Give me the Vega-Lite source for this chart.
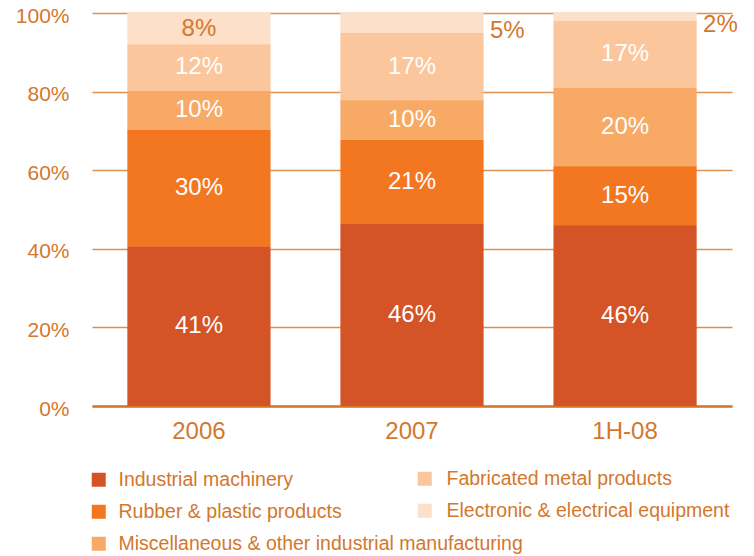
{
  "$schema": "https://vega.github.io/schema/vega-lite/v6.json",
  "width": 640,
  "height": 393,
  "autosize": {"type": "none"},
  "padding": {"left": 92, "top": 13, "right": 22, "bottom": 150},
  "background": "white",
  "config": {
    "view": {"stroke": null},
    "font": "Liberation Sans",
    "axis": {"labelFont": "Liberation Sans", "labelColor": "#D4772D", "title": null},
    "legend": {"labelFont": "Liberation Sans"}
  },
  "data": {
    "values": [
      {"period": "2006", "category": "Industrial machinery", "rank": 1, "value": 0.41},
      {"period": "2006", "category": "Rubber & plastic products", "rank": 2, "value": 0.30},
      {"period": "2006", "category": "Miscellaneous & other industrial manufacturing", "rank": 3, "value": 0.10},
      {"period": "2006", "category": "Fabricated metal products", "rank": 4, "value": 0.12},
      {"period": "2006", "category": "Electronic & electrical equipment", "rank": 5, "value": 0.08},
      {"period": "2007", "category": "Industrial machinery", "rank": 1, "value": 0.46},
      {"period": "2007", "category": "Rubber & plastic products", "rank": 2, "value": 0.21},
      {"period": "2007", "category": "Miscellaneous & other industrial manufacturing", "rank": 3, "value": 0.10},
      {"period": "2007", "category": "Fabricated metal products", "rank": 4, "value": 0.17},
      {"period": "2007", "category": "Electronic & electrical equipment", "rank": 5, "value": 0.05},
      {"period": "1H-08", "category": "Industrial machinery", "rank": 1, "value": 0.46},
      {"period": "1H-08", "category": "Rubber & plastic products", "rank": 2, "value": 0.15},
      {"period": "1H-08", "category": "Miscellaneous & other industrial manufacturing", "rank": 3, "value": 0.20},
      {"period": "1H-08", "category": "Fabricated metal products", "rank": 4, "value": 0.17},
      {"period": "1H-08", "category": "Electronic & electrical equipment", "rank": 5, "value": 0.02}
    ]
  },
  "encoding": {
    "x": {
      "field": "period",
      "type": "nominal",
      "sort": ["2006", "2007", "1H-08"],
      "scale": {"paddingInner": 0.33, "paddingOuter": 0.167},
      "axis": {
        "labelAngle": 0,
        "labelFontSize": 24,
        "labelPadding": 13,
        "ticks": false,
        "domain": true,
        "domainColor": "#D4772D",
        "domainWidth": 2.5,
        "title": null
      }
    },
    "y": {
      "field": "value",
      "type": "quantitative",
      "stack": "normalize",
      "scale": {"domain": [0, 1], "nice": false},
      "axis": {
        "values": [0, 0.2, 0.4, 0.6, 0.8, 1],
        "format": ".0%",
        "labelFontSize": 21,
        "labelPadding": 23,
        "labelOffset": 3,
        "ticks": false,
        "domain": false,
        "grid": true,
        "gridColor": "#DC8F4E",
        "gridWidth": 1.5,
        "title": null
      }
    },
    "order": {"field": "rank", "type": "quantitative"}
  },
  "layer": [
    {
      "mark": {"type": "bar"},
      "encoding": {
        "color": {
          "field": "category",
          "type": "nominal",
          "scale": {
            "domain": ["Industrial machinery", "Rubber & plastic products", "Miscellaneous & other industrial manufacturing", "Fabricated metal products", "Electronic & electrical equipment"],
            "range": ["#D45427", "#F37621", "#F8A965", "#FBC69B", "#FDE0C9"]
          },
          "legend": {
            "values": ["Industrial machinery", "Rubber & plastic products", "Miscellaneous & other industrial manufacturing"],
            "orient": "none",
            "legendX": -3,
            "legendY": 457,
            "title": null,
            "padding": 0,
            "symbolType": "square",
            "symbolSize": 196,
            "symbolStrokeWidth": 0,
            "labelFontSize": 19.5,
            "labelColor": "#D4772D",
            "labelOffset": 10,
            "labelLimit": 600,
            "rowPadding": 11
          }
        }
      }
    },
    {
      "mark": {"type": "bar"},
      "encoding": {
        "fill": {
          "field": "category",
          "type": "nominal",
          "scale": {
            "domain": ["Fabricated metal products", "Electronic & electrical equipment", "Industrial machinery", "Rubber & plastic products", "Miscellaneous & other industrial manufacturing"],
            "range": ["#FBC69B", "#FDE0C9", "#D45427", "#F37621", "#F8A965"]
          },
          "legend": {
            "values": ["Fabricated metal products", "Electronic & electrical equipment"],
            "orient": "none",
            "legendX": 323,
            "legendY": 456,
            "title": null,
            "padding": 0,
            "symbolType": "square",
            "symbolSize": 196,
            "symbolStrokeWidth": 0,
            "labelFontSize": 19.5,
            "labelColor": "#D4772D",
            "labelOffset": 12,
            "labelLimit": 600,
            "rowPadding": 11
          }
        }
      }
    },
    {
      "mark": {"type": "text", "fontSize": 24, "baseline": "middle", "align": "center"},
      "encoding": {
        "y": {"field": "value", "type": "quantitative", "stack": "normalize", "bandPosition": 0.5},
        "detail": {"field": "category", "type": "nominal"},
        "text": {"field": "value", "type": "quantitative", "format": ".0%"},
        "color": {
          "condition": {"test": "datum.category === 'Electronic & electrical equipment'", "value": "#D4772D"},
          "value": "#FFFFFF"
        },
        "opacity": {"condition": {"test": "datum.value < 0.07", "value": 0}, "value": 1}
      }
    },
    {
      "mark": {"type": "text", "fontSize": 24, "baseline": "middle", "align": "left", "dx": 78, "dy": 8, "color": "#D4772D"},
      "encoding": {
        "y": {"field": "value", "type": "quantitative", "stack": "normalize", "bandPosition": 0.5},
        "detail": {"field": "category", "type": "nominal"},
        "text": {"field": "value", "type": "quantitative", "format": ".0%"},
        "opacity": {"condition": {"test": "datum.value < 0.07", "value": 1}, "value": 0}
      }
    }
  ]
}
